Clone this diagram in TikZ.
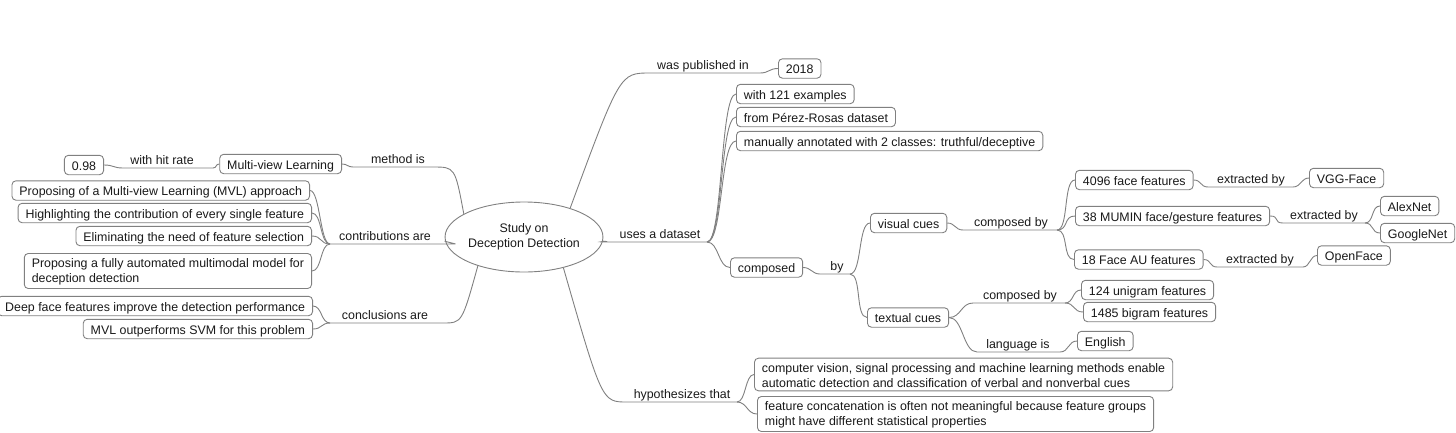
\documentclass[tikz,border=0pt]{standalone}
\usepackage{fontspec}
\setmainfont{Liberation Sans}
\usetikzlibrary{shapes.geometric,calc}
\definecolor{linec}{RGB}{128,128,128}
\definecolor{txtc}{RGB}{25,25,25}
\begin{document}
\begin{tikzpicture}[x=1pt,y=-1pt,
  every node/.style={font=\fontsize{12.4}{15}\selectfont, text=txtc},
  box/.style={draw=linec, line width=0.9pt, rounded corners=4pt, inner xsep=7.5pt, inner ysep=3.2pt, text height=11.5pt, text depth=1.5pt, fill=white},
  boxtwo/.style={draw=linec, line width=0.9pt, rounded corners=4pt, inner xsep=7.5pt, inner ysep=3pt, align=left, fill=white},
  lbl/.style={inner sep=0pt, anchor=base},
  conn/.style={draw=linec, line width=0.9pt},
  hs/.style={to path={.. controls ($(\tikztostart)+(#1,0)$) and ($(\tikztotarget)+(-#1,0)$) .. (\tikztotarget) \tikztonodes}}]
\useasboundingbox (0,0) rectangle (1456,432);

% root
\node[ellipse, draw=linec, line width=0.9pt, minimum width=134pt, minimum height=70pt, align=center, inner sep=0pt] (root) at (524,237) {Study on\\Deception Detection};

% left side boxes
\node[box, anchor=east] (mvl) at (342,164) {Multi-view Learning};
\node[box, anchor=east] (v098) at (104,165) {0.98};
\node[box, anchor=east] (c1) at (310,190.5) {Proposing of a Multi-view Learning (MVL) approach};
\node[box, anchor=east] (c2) at (312,213) {Highlighting the contribution of every single feature};
\node[box, anchor=east] (c3) at (312,236) {Eliminating the need of feature selection};
\node[boxtwo, anchor=east] (c4) at (312,271) {\rule{0pt}{11.5pt}Proposing a fully automated multimodal model for\\deception detection};
\node[box, anchor=east] (k1) at (313,306) {Deep face features improve the detection performance};
\node[box, anchor=east] (k2) at (313,329) {MVL outperforms SVM for this problem};

% right side boxes
\node[box, anchor=west] (y2018) at (778,68.5) {2018};
\node[box, anchor=west] (d1) at (736,94) {with 121 examples};
\node[box, anchor=west] (d2) at (736,117) {from Pérez-Rosas dataset};
\node[box, anchor=west] (d3) at (736,141) {manually annotated with 2 classes: truthful/deceptive};
\node[box, anchor=west] (comp) at (730,267.5) {composed};
\node[box, anchor=west] (vis) at (870,223) {visual cues};
\node[box, anchor=west] (txt) at (867,317.5) {textual cues};
\node[box, anchor=west] (f1) at (1075,180) {4096 face features};
\node[box, anchor=west] (f2) at (1075,216) {38 MUMIN face/gesture features};
\node[box, anchor=west] (f3) at (1074,259.5) {18 Face AU features};
\node[box, anchor=west] (vgg) at (1309,178) {VGG-Face};
\node[box, anchor=west] (alex) at (1380,206) {AlexNet};
\node[box, anchor=west] (goog) at (1380,233) {GoogleNet};
\node[box, anchor=west] (openf) at (1317,255.5) {OpenFace};
\node[box, anchor=west] (uni) at (1081,290) {124 unigram features};
\node[box, anchor=west] (bi) at (1083,312) {1485 bigram features};
\node[box, anchor=west] (eng) at (1077,341) {English};
\node[boxtwo, anchor=west] (h1) at (754,374.5) {\rule{0pt}{11.5pt}computer vision, signal processing and machine learning methods enable\\automatic detection and classification of verbal and nonverbal cues};
\node[boxtwo, anchor=west] (h2) at (757,414) {\rule{0pt}{11.5pt}feature concatenation is often not meaningful because feature groups\\might have different statistical properties};

% labels
\node[lbl] (lpub) at (703,69) {was published in};
\node[lbl] (luses) at (660,238) {uses a dataset};
\node[lbl] (lmeth) at (398,163) {method is};
\node[lbl] (lhit) at (162,164) {with hit rate};
\node[lbl] (lcontr) at (385,240) {contributions are};
\node[lbl] (lconcl) at (385,319) {conclusions are};
\node[lbl] (lhyp) at (682,398) {hypothesizes that};
\node[lbl] (lby) at (837,270) {by};
\node[lbl] (lcompv) at (1011,226) {composed by};
\node[lbl] (lcompt) at (1020,299) {composed by};
\node[lbl] (llang) at (1018,348) {language is};
\node[lbl] (lext1) at (1251,183) {extracted by};
\node[lbl] (lext2) at (1324,219) {extracted by};
\node[lbl] (lext3) at (1260,263) {extracted by};

% label line end points
\coordinate (pubA) at (650,73);   \coordinate (pubB) at (760,73);
\coordinate (usesA) at (602,242); \coordinate (usesB) at (707,242);
\coordinate (methA) at (353,167); \coordinate (methB) at (433,167);
\coordinate (hitA) at (123,168);  \coordinate (hitB) at (213,168);
\coordinate (contrA) at (330,244); \coordinate (contrB) at (455,244);
\coordinate (conclA) at (330,323); \coordinate (conclB) at (443,323);
\coordinate (hypA) at (627,402);  \coordinate (hypB) at (737,402);
\coordinate (byA) at (820,274);   \coordinate (byB) at (850,274);
\coordinate (compvA) at (963,230); \coordinate (compvB) at (1057,230);
\coordinate (comptA) at (973,303); \coordinate (comptB) at (1065,303);
\coordinate (langA) at (977,352); \coordinate (langB) at (1060,352);
\coordinate (ext1A) at (1208,187); \coordinate (ext1B) at (1293,187);
\coordinate (ext2A) at (1283,223); \coordinate (ext2B) at (1365,223);
\coordinate (ext3A) at (1217,267); \coordinate (ext3B) at (1303,267);

% connectors, right side
\draw[conn] (root.32) .. controls (620,73) .. (pubA) -- (pubB) to[hs=9] (y2018.west);
\draw[conn] (root.-3) to[hs=5] (usesA) -- (usesB);
\draw[conn] (usesB) to[hs=16] (d1.west);
\draw[conn] (usesB) to[hs=16] (d2.west);
\draw[conn] (usesB) to[hs=16] (d3.west);
\draw[conn] (usesB) to[hs=12] (comp.west);
\draw[conn] (comp.east) to[hs=8] (byA) -- (byB);
\draw[conn] (byB) to[hs=12] (vis.west);
\draw[conn] (byB) to[hs=12] (txt.west);
\draw[conn] (vis.east) to[hs=8] (compvA) -- (compvB);
\draw[conn] (compvB) to[hs=12] (f1.west);
\draw[conn] (compvB) to[hs=12] (f2.west);
\draw[conn] (compvB) to[hs=12] (f3.west);
\draw[conn] (f1.east) to[hs=8] (ext1A) -- (ext1B) to[hs=8] (vgg.west);
\draw[conn] (f2.east) to[hs=10] (ext2A) -- (ext2B);
\draw[conn] (ext2B) to[hs=9] (alex.west);
\draw[conn] (ext2B) to[hs=9] (goog.west);
\draw[conn] (f3.east) to[hs=8] (ext3A) -- (ext3B) to[hs=7] (openf.west);
\draw[conn] (txt.east) to[hs=12] (comptA) -- (comptB);
\draw[conn] (comptB) to[hs=9] (uni.west);
\draw[conn] (comptB) to[hs=10] (bi.west);
\draw[conn] (txt.east) to[hs=14] (langA) -- (langB) to[hs=9] (eng.west);
\draw[conn] (root.-38) .. controls (602,402) .. (hypA) -- (hypB);
\draw[conn] (hypB) to[hs=9] (h1.west);
\draw[conn] (hypB) to[hs=10] (h2.west);

% connectors, left side
\draw[conn] (root.159) .. controls (455,167) .. (methB) -- (methA) to[hs=-6] (mvl.east);
\draw[conn] (mvl.west) to[hs=-4] (hitB) -- (hitA) to[hs=-10] (v098.east);
\draw[conn] (root.183) to[hs=-2] (contrB) -- (contrA);
\draw[conn] (contrA) to[hs=-10] (c1.east);
\draw[conn] (contrA) to[hs=-10] (c2.east);
\draw[conn] (contrA) to[hs=-10] (c3.east);
\draw[conn] (contrA) to[hs=-10] (c4.east);
\draw[conn] (root.212) .. controls (462,323) .. (conclB) -- (conclA);
\draw[conn] (conclA) to[hs=-9] (k1.east);
\draw[conn] (conclA) to[hs=-9] (k2.east);
\end{tikzpicture}
\end{document}
